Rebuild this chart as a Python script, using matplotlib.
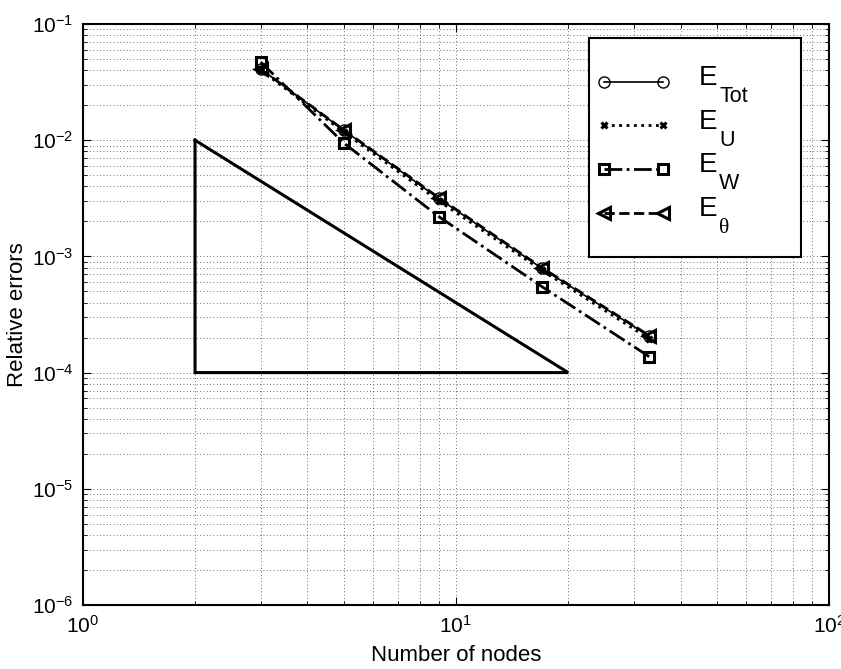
import math
import matplotlib
matplotlib.use("Agg")
import matplotlib.pyplot as plt
from matplotlib.ticker import LogLocator, FuncFormatter, NullFormatter
from matplotlib.legend_handler import HandlerLine2D
from matplotlib.lines import Line2D
from matplotlib.patches import Rectangle

plt.rcParams['font.family'] = ['Liberation Sans', 'DejaVu Sans']
plt.rcParams['mathtext.fontset'] = 'custom'
plt.rcParams['mathtext.rm'] = 'Liberation Sans'
plt.rcParams['mathtext.it'] = 'Liberation Sans:italic'
plt.rcParams['mathtext.sf'] = 'Liberation Sans'

nodes = [3, 5, 9, 17, 33]
E_tot = [0.041, 0.0122, 0.00315, 0.00079, 0.000205]
E_u = [0.040, 0.0118, 0.0030, 0.00076, 0.000195]
E_w = [0.047, 0.0095, 0.0022, 0.00055, 0.000137]
E_theta = [0.041, 0.0123, 0.0032, 0.00080, 0.000208]
tri_x = [2, 2, 20, 2]
tri_y = [1e-2, 1e-4, 1e-4, 1e-2]
label_main = ['E', 'E', 'E', 'E']
label_sub = ['Tot', 'U', 'W', 'θ']
series_names = ['E_Tot', 'E_U', 'E_W', 'E_theta']

W, H = 841, 669
fig = plt.figure(figsize=(W / 100, H / 100), dpi=100)
ax_l, ax_r, ax_t, ax_b = 82.7, 829, 24, 605
ax = fig.add_axes([ax_l / W, (H - ax_b) / H, (ax_r - ax_l) / W, (ax_b - ax_t) / H])

ax.set_xscale('log')
ax.set_yscale('log')
ax.set_xlim(1, 100)
ax.set_ylim(1e-6, 1e-1)

ax.plot(tri_x, tri_y, color='black', lw=2.2, solid_joinstyle='miter')

l1, = ax.plot(nodes, E_tot, '-', color='black', lw=1.2, marker='o', ms=8,
              mfc='none', mec='black', mew=1.0, label=series_names[0])
l2, = ax.plot(nodes, E_u, ':', color='black', lw=2.0, marker='x', ms=5,
              mec='black', mew=2.2, label=series_names[1])
l3, = ax.plot(nodes, E_w, '-.', color='black', lw=2.0, marker='s', ms=7,
              mfc='none', mec='black', mew=2.2, label=series_names[2])
l4, = ax.plot(nodes, E_theta, '--', color='black', lw=2.0, marker='<', ms=8,
              mfc='none', mec='black', mew=2.2, label=series_names[3])

grid_kw = dict(linestyle=(0, (1, 3)), color='0.25', lw=0.6)
ax.grid(True, which='major', **grid_kw)
ax.grid(True, which='minor', **grid_kw)

ax.xaxis.set_major_locator(LogLocator(base=10, numticks=10))
ax.yaxis.set_major_locator(LogLocator(base=10, numticks=10))
ax.xaxis.set_minor_locator(LogLocator(base=10, subs=range(2, 10), numticks=20))
ax.yaxis.set_minor_locator(LogLocator(base=10, subs=range(2, 10), numticks=20))
ax.xaxis.set_minor_formatter(NullFormatter())
ax.yaxis.set_minor_formatter(NullFormatter())


def fmt(v, pos):
    e = int(round(math.log10(v)))
    return r'$\mathregular{10^{%d}}$' % e


ax.xaxis.set_major_formatter(FuncFormatter(fmt))
ax.yaxis.set_major_formatter(FuncFormatter(fmt))

ax.tick_params(which='both', direction='in', top=True, right=True, labelsize=15)
ax.tick_params(which='major', length=6, width=0.8)
ax.tick_params(which='minor', length=3, width=0.6)
ax.tick_params(axis='x', pad=7)
ax.tick_params(axis='y', pad=6.5)
for s in ax.spines.values():
    s.set_linewidth(1.5)

ax.set_xlabel('Number of nodes', fontsize=16, labelpad=6)
ax.set_ylabel('Relative errors', fontsize=16, labelpad=3)


def fx(px):
    return (px - ax_l) / (ax_r - ax_l)


def fy(py):
    return (ax_b - py) / (ax_b - ax_t)


# legend frame (box wider than its contents, as in the reference)
frame = Rectangle((fx(589.3), fy(256.7)), fx(801) - fx(589.3), fy(38.3) - fy(256.7),
                  transform=ax.transAxes, facecolor='white', edgecolor='black',
                  lw=1.5, zorder=4)
ax.add_patch(frame)

fs = 20
fs_px = fs * 100 / 72
leg = ax.legend(handles=[l1, l2, l3, l4], labels=label_main, loc='center left',
                bbox_to_anchor=(fx(604), fy(150)),
                fontsize=fs, frameon=False, numpoints=2,
                handlelength=59 / fs_px, handletextpad=1.3, labelspacing=0.64,
                borderpad=0, borderaxespad=0,
                handler_map={Line2D: HandlerLine2D(marker_pad=0)})
leg.set_zorder(5)

# raise the "E" so the handle line sits near its baseline, then add subscripts
for t, sub in zip(leg.get_texts(), label_sub):
    t.set_position((0, 6.5))
    fam = ['Liberation Serif'] if sub == 'θ' else ['Liberation Sans']
    ax.annotate(sub, xy=(1, 0), xycoords=t, xytext=(1.5, -11),
                textcoords='offset pixels', fontsize=15.5, family=fam,
                ha='left', va='baseline', zorder=6)

fig.savefig('out.png', dpi=100)
